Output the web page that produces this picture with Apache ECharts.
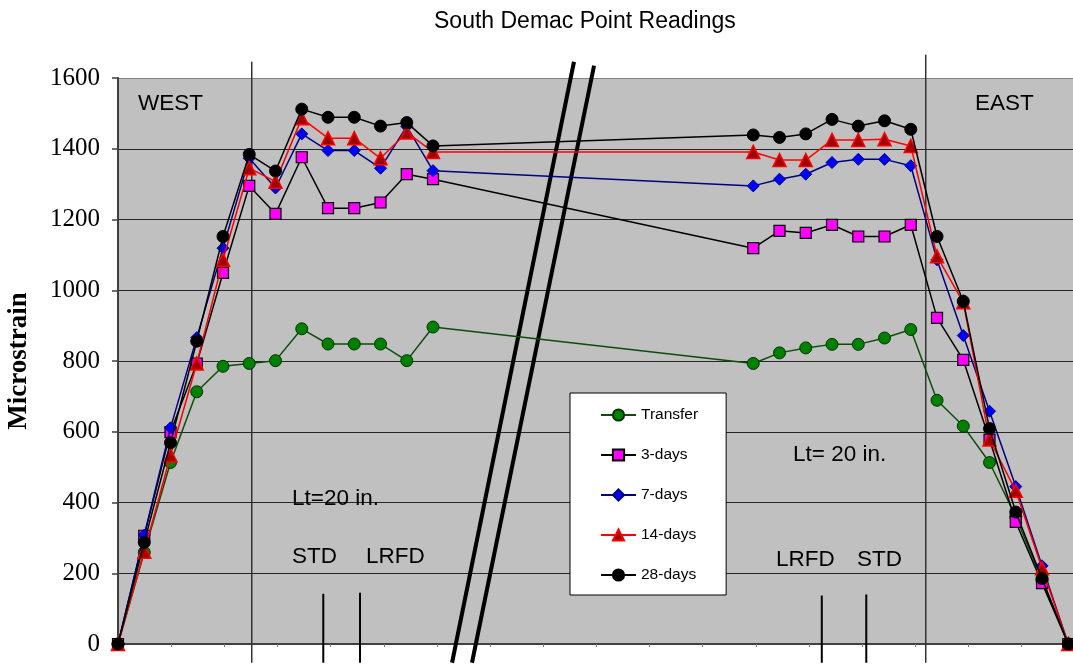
<!DOCTYPE html>
<html><head><meta charset="utf-8">
<script src="https://cdn.jsdelivr.net/npm/echarts@6/dist/echarts.min.js"></script>
<style>html,body{margin:0;padding:0;background:#fff}#c{width:1073px;height:666px}</style>
</head><body><div id="c"></div>
<script>
// ---- data (x = position along member, inches; y = microstrain) ----
const seriesNames = ['Transfer', '3-days', '7-days', '14-days', '28-days'];
const xPositions = [0, 2, 4, 6, 8, 10, 12, 14, 16, 18, 20, 22, 24,
                    48.4, 50.4, 52.4, 54.4, 56.4, 58.4, 60.4, 62.4, 64.4, 66.4, 68.4, 70.4, 72.4];
const transfer = [0, 259, 513, 713, 785, 793, 801, 891, 848, 848, 848, 801, 896,
                  793, 823, 837, 847, 847, 865, 889, 689, 616, 513, 360, 180, 0];
const days3 = [0, 306, 599, 793, 1049, 1295, 1216, 1376, 1232, 1232, 1248, 1328, 1314,
               1119, 1168, 1162, 1185, 1152, 1152, 1185, 922, 803, 578, 345, 172, 0];
const days7 = [0, 308, 611, 866, 1119, 1373, 1289, 1442, 1395, 1395, 1345, 1463, 1338,
               1295, 1314, 1328, 1361, 1370, 1370, 1352, 1086, 872, 658, 445, 221, 0];
const days14 = [0, 261, 533, 793, 1086, 1345, 1307, 1486, 1430, 1430, 1373, 1446, 1391,
                1391, 1368, 1368, 1425, 1425, 1427, 1408, 1096, 966, 578, 433, 214, 0];
const days28 = [0, 287, 569, 856, 1152, 1384, 1337, 1512, 1489, 1489, 1464, 1474, 1408,
                1439, 1432, 1442, 1483, 1464, 1479, 1455, 1152, 969, 609, 373, 185, 0];
const yMin = 0, yMax = 1600, yStep = 200;
const titleText = 'South Demac Point Readings';
const yAxisName = 'Microstrain';

// ---- annotations (in data coordinates) ----
const annotTexts = [
  {t: 'WEST', x: 1.52, y: 1528},
  {t: 'EAST', x: 65.3, y: 1527},
  {t: 'Lt=20 in.', x: 13.26, y: 411},
  {t: 'STD', x: 13.26, y: 247},
  {t: 'LRFD', x: 18.9, y: 247},
  {t: 'Lt= 20 in.', x: 51.43, y: 534},
  {t: 'LRFD', x: 50.13, y: 238},
  {t: 'STD', x: 56.3, y: 238}
];
const annotLines = [
  {x0: 10.19, y0: 1646, x1: 10.19, y1: -53, w: 1.5, c: '#333'},
  {x0: 61.54, y0: 1666, x1: 61.54, y1: -53, w: 1.5, c: '#333'},
  {x0: 15.64, y0: 142, x1: 15.64, y1: -53, w: 2, c: '#000'},
  {x0: 18.44, y0: 145, x1: 18.44, y1: -53, w: 2, c: '#000'},
  {x0: 53.62, y0: 137, x1: 53.62, y1: -53, w: 2, c: '#000'},
  {x0: 57.01, y0: 140, x1: 57.01, y1: -53, w: 2, c: '#000'},
  {x0: 34.74, y0: 1646, x1: 25.45, y1: -53, w: 4, c: '#000'},
  {x0: 36.27, y0: 1635, x1: 26.97, y1: -53, w: 4, c: '#000'}
];

const styles = [
  {symbol: 'circle', size: 12, fill: '#008000', border: '#003300', line: '#0b4d0b', bw: 1},
  {symbol: 'rect', size: 11, fill: '#FF00FF', border: '#000000', line: '#000000', bw: 1.2},
  {symbol: 'diamond', size: 12, fill: '#0000FF', border: '#000080', line: '#000080', bw: 1},
  {symbol: 'triangle', size: 13, fill: '#A00000', border: '#FF0000', line: '#FF0000', bw: 1.5},
  {symbol: 'circle', size: 12, fill: '#000000', border: '#000000', line: '#000000', bw: 1}
];
const values = [transfer, days3, days7, days14, days28];

const series = seriesNames.map((n, i) => ({
  name: n,
  type: 'line',
  data: xPositions.map((x, k) => [x, values[i][k]]),
  symbol: styles[i].symbol,
  symbolSize: styles[i].size,
  showAllSymbol: true,
  clip: false,
  itemStyle: {color: styles[i].fill, borderColor: styles[i].border, borderWidth: styles[i].bw},
  lineStyle: {color: styles[i].line, width: 1.5},
  emphasis: {disabled: true},
  z: 3 + i
}));

const splitColors = [];
for (let v = yMin; v <= yMax; v += yStep) splitColors.push(v === yMax ? '#808080' : '#262626');

const option = {
  animation: false,
  backgroundColor: '#ffffff',
  title: {
    text: titleText, left: 429, top: 5,
    textStyle: {fontFamily: 'Liberation Sans', fontSize: 23, fontWeight: 'normal', color: '#000'}
  },
  grid: {left: 118, right: 0, top: 78, bottom: 22, show: true, backgroundColor: '#C0C0C0', borderWidth: 0,
         containLabel: false, outerBoundsMode: 'none'},
  legend: {
    orient: 'vertical', left: 570, top: 393,
    backgroundColor: '#ffffff', borderColor: '#000', borderWidth: 1,
    padding: [14, 28, 12, 30],
    itemWidth: 35, itemHeight: 14, itemGap: 24,
    textStyle: {fontFamily: 'Liberation Sans', fontSize: 15.5, color: '#000', lineHeight: 15},
    selectedMode: false,
    data: seriesNames
  },
  xAxis: {
    type: 'value', min: 0, max: 72.76, interval: 4.05,
    axisLine: {lineStyle: {color: '#404040', width: 2}},
    axisTick: {show: true, length: 3, lineStyle: {color: '#777', width: 1}},
    axisLabel: {show: false},
    splitLine: {show: false}
  },
  yAxis: {
    type: 'value', min: yMin, max: yMax, interval: yStep,
    name: yAxisName, nameLocation: 'middle', nameGap: 85, nameRotate: 90,
    nameTextStyle: {fontFamily: 'Liberation Serif', fontWeight: 'bold', fontSize: 27, color: '#000'},
    axisLine: {show: true, lineStyle: {color: '#404040', width: 2}},
    axisTick: {show: true, inside: false, length: 6, lineStyle: {color: '#404040', width: 1.5}},
    axisLabel: {margin: 18, fontFamily: 'Liberation Serif', fontSize: 25, color: '#000',
                formatter: v => String(v)},
    splitLine: {show: true, lineStyle: {color: splitColors, width: 1.2}}
  },
  series: series
};

const chart = echarts.init(document.getElementById('c'), null, {renderer: 'canvas'});
chart.setOption(option);

const P = (x, y) => chart.convertToPixel({gridIndex: 0}, [x, y]);
const graphics = [];
annotLines.forEach(l => {
  const a = P(l.x0, l.y0), b = P(l.x1, l.y1);
  graphics.push({type: 'line', shape: {x1: a[0], y1: a[1], x2: b[0], y2: b[1]},
    style: {stroke: l.c, lineWidth: l.w}, z: 2, silent: true});
});
annotTexts.forEach(t => {
  const p = P(t.x, t.y);
  graphics.push({type: 'text', x: p[0], y: p[1],
    style: {text: t.t, font: '22.5px "Liberation Sans"', fill: '#000', textAlign: 'left', textVerticalAlign: 'middle'},
    z: 2, silent: true});
});
chart.setOption({graphic: graphics});
</script>
</body></html>
